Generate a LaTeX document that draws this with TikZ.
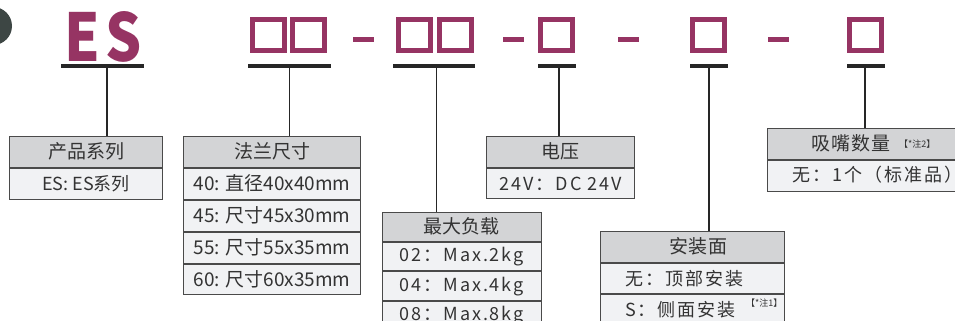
\documentclass[tikz,border=0pt]{standalone}
\usepackage{fontspec}
\setmainfont{Noto Sans CJK SC}
\definecolor{mag}{HTML}{963463}
\definecolor{hdrfill}{HTML}{D3D4D6}
\definecolor{rowfill}{HTML}{F1F2F4}
\definecolor{bdr}{HTML}{4A4A4A}
\definecolor{txt}{HTML}{333333}
\definecolor{dark}{HTML}{3D4644}
\newcommand{\hfont}{\fontsize{19}{19}\selectfont}
\newcommand{\rfont}{\fontsize{18}{18}\selectfont}
\newcommand{\rfontb}{\fontsize{19}{19}\selectfont}
\newcommand{\sfont}{\fontsize{18}{18}\selectfont\addfontfeatures{LetterSpace=11}}
\newcommand{\shfont}{\fontsize{19}{19}\selectfont\addfontfeatures{LetterSpace=5}}
\newcommand{\notefont}{\fontsize{9}{9}\selectfont}
\begin{document}
\begin{tikzpicture}[x=1pt,y=-1pt,
  hdr/.style={draw=bdr, line width=1pt, fill=hdrfill, anchor=north west, inner sep=0pt, text=txt, font=\hfont},
  row/.style={draw=bdr, line width=1pt, fill=rowfill, anchor=north west, inner sep=0pt, text=txt, font=\rfont},
  rtext/.style={inner sep=0pt, text=txt, font=\sfont},
  sq/.style={draw=mag, line width=5pt, minimum width=32pt, minimum height=31pt, inner sep=0pt},
  dashbar/.style={fill=mag, minimum width=21pt, minimum height=5pt, inner sep=0pt},
  uline/.style={fill=black!85, minimum height=4pt, inner sep=0pt},
  conn/.style={draw=black!85, line width=1.3pt},
  big/.style={text=mag, inner sep=0pt, xscale=0.86, transform shape, font=\fontsize{66}{66}\selectfont\bfseries}
]
\useasboundingbox (0,0) rectangle (955,321);
\clip (0,0) rectangle (955,321);

% circle badge
\fill[dark] (-7,26) circle (19);

% code line
\node[big] (cE) at (82.5,37) {E};
\node[big] (cS) at (123.5,37) {S};
\node[sq] (s1a) at (268,35) {};
\node[sq] (s1b) at (308.5,35) {};
\node[dashbar] (d1) at (363.5,40) {};
\node[sq] (s2a) at (414,35) {};
\node[sq] (s2b) at (455.5,35) {};
\node[dashbar] (d2) at (513.5,40) {};
\node[sq] (s3) at (556.5,35) {};
\node[dashbar] (d3) at (628.5,40) {};
\node[sq] (s4) at (708.5,35) {};
\node[dashbar] (d4) at (778.5,40) {};
\node[sq] (s5) at (865.5,35) {};

% underlines
\node[uline, minimum width=83pt] (u0) at (102.5,66) {};
\node[uline, minimum width=83pt] (u1) at (289.5,66) {};
\node[uline, minimum width=82pt] (u2) at (434,66) {};
\node[uline, minimum width=38pt] (u3) at (556.5,66) {};
\node[uline, minimum width=38pt] (u4) at (708.5,66) {};
\node[uline, minimum width=38pt] (u5) at (865.5,66) {};

% box 1
\node[hdr, minimum width=153pt, minimum height=31.5pt] (b1h) at (9,135.5) {产品系列};
\node[row, minimum width=153pt, minimum height=30.5pt] (b1r1) at (b1h.south west) {ES: ES系列};

% box 2
\node[hdr, minimum width=176.7pt, minimum height=31.2pt] (b2h) at (183.3,135.5) {法兰尺寸};
\node[row, font=\rfontb, minimum width=176.7pt, minimum height=30.8pt] (b2r1) at (b2h.south west) {40: 直径40x40mm};
\node[row, font=\rfontb, minimum width=176.7pt, minimum height=31pt] (b2r2) at (b2r1.south west) {45: 尺寸45x30mm};
\node[row, font=\rfontb, minimum width=176.7pt, minimum height=31pt] (b2r3) at (b2r2.south west) {55: 尺寸55x35mm};
\node[row, font=\rfontb, minimum width=176.7pt, minimum height=30.7pt] (b2r4) at (b2r3.south west) {60: 尺寸60x35mm};

% box 3
\node[hdr, minimum width=159pt, minimum height=29pt] (b3h) at (381.7,211.7) {最大负载};
\node[row, font=\sfont, minimum width=159pt, minimum height=28.6pt] (b3r1) at (b3h.south west) {02：Max.2kg};
\node[row, font=\sfont, minimum width=159pt, minimum height=28.7pt] (b3r2) at (b3r1.south west) {04：Max.4kg};
\node[row, font=\sfont, minimum width=159pt, minimum height=29pt] (b3r3) at (b3r2.south west) {08：Max.8kg};

% box 4
\node[hdr, minimum width=148.3pt, minimum height=31pt] (b4h) at (486,135.7) {电压};
\node[row, font=\sfont, minimum width=148.3pt, minimum height=30.6pt] (b4r1) at (b4h.south west) {24V：DC 24V};

% box 5
\node[hdr, minimum width=184.3pt, minimum height=31pt] (b5h) at (600,230.7) {};
\node[rtext, font=\shfont] (t5h) at (698.5,246.2) {安装面};
\node[row, minimum width=184.3pt, minimum height=30.6pt] (b5r1) at (b5h.south west) {};
\node[row, minimum width=184.3pt, minimum height=30.6pt] (b5r2) at (b5r1.south west) {};
\node[rtext, anchor=west, xshift=25pt] (t5r1) at (b5r1.west) {无：顶部安装};
\node[rtext, anchor=west, xshift=25pt] (t5r2) at (b5r2.west) {S：侧面安装};
\node[rtext, anchor=west, font=\notefont] (n1) at (746,303.5) {【*注1】};

% box 6
\node[hdr, minimum width=212pt, minimum height=31.3pt] (b6h) at (767.3,127.7) {};
\node[row, minimum width=212pt, minimum height=31pt] (b6r1) at (b6h.south west) {};
\node[rtext, font=\shfont, anchor=west] (t6h) at (811,143.3) {吸嘴数量};
\node[rtext, anchor=west, font=\notefont] (n2) at (899,144) {【*注2】};
\node[rtext, anchor=west] (t6r) at (792,174.5) {无：1个（标准品）};

% connectors
\coordinate (c0) at (107,66);
\coordinate (c1) at (289.3,66);
\coordinate (c2) at (436.7,66);
\coordinate (c3) at (559,66);
\coordinate (c4) at (709,66);
\coordinate (c5) at (865,66);
\draw[conn] (c0) -- (c0 |- b1h.north);
\draw[conn] (c1) -- (c1 |- b2h.north);
\draw[conn] (c2) -- (c2 |- b3h.north);
\draw[conn] (c3) -- (c3 |- b4h.north);
\draw[conn] (c4) -- (c4 |- b5h.north);
\draw[conn] (c5) -- (c5 |- b6h.north);
\end{tikzpicture}
\end{document}
